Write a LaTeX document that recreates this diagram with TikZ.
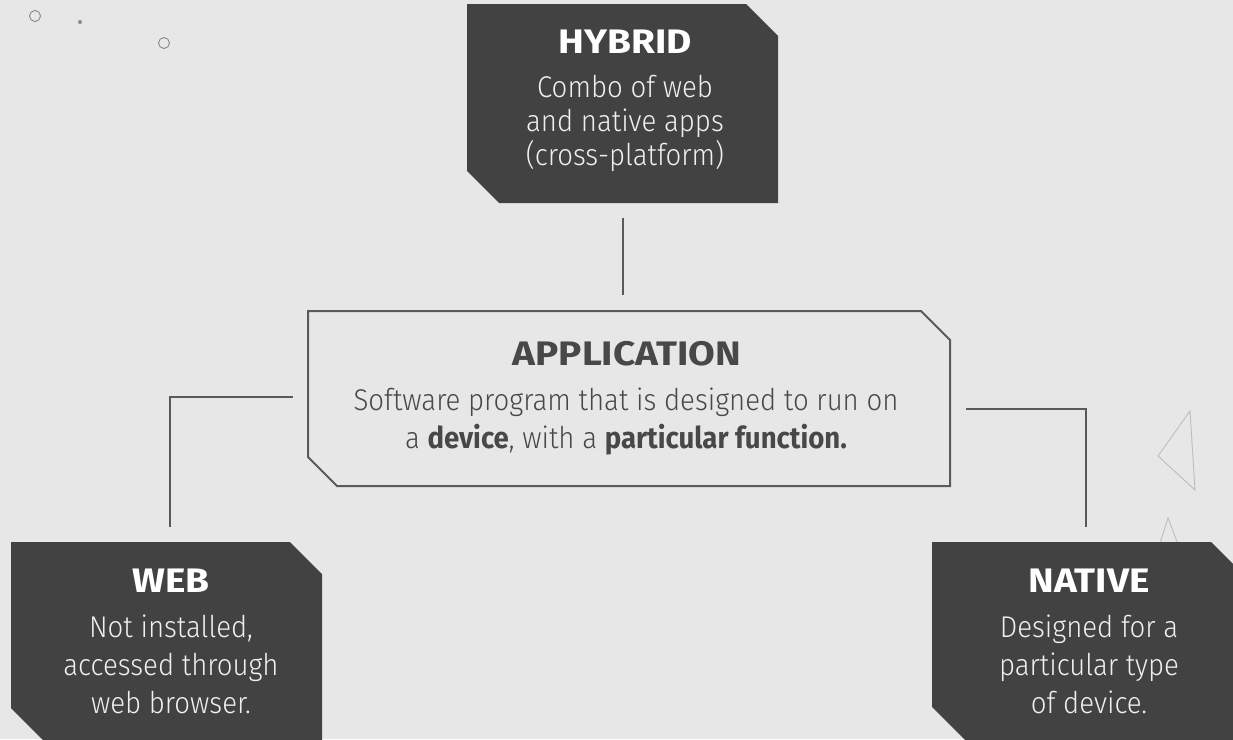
\documentclass[tikz,border=0pt]{standalone}
\usepackage{fontspec}
\setmainfont{Fira Sans Light}
\newfontfamily\bodyfont{Fira Sans Light}[FakeStretch=0.92]
\newfontfamily\headfont{Fira Sans Bold}[FakeStretch=1.14]
\newfontfamily\inlinebold{Fira Sans Bold}[FakeStretch=0.92]
\usetikzlibrary{calc}
\definecolor{bggray}{HTML}{E7E7E7}
\definecolor{boxdark}{HTML}{424242}
\definecolor{linegray}{HTML}{5A5A5A}
\definecolor{apptext}{HTML}{484848}
\definecolor{decogray}{HTML}{8A8A8A}
\definecolor{trigray}{HTML}{BDBDBD}
% chamfered outline from a named rectangle node: #1 options, #2 node, #3 cut
\newcommand\chamfbox[3]{%
  \path[#1] (#2.north west) -- ($(#2.north east)+(-#3,0)$) -- ($(#2.north east)+(0,#3)$)
    -- (#2.south east) -- ($(#2.south west)+(#3,0)$) -- ($(#2.south west)+(0,-#3)$) -- cycle;}
\begin{document}
\begin{tikzpicture}[x=1pt,y=-1pt,
  conn/.style={draw=linegray, line width=2pt},
  boxframe/.style={shape=rectangle, draw=none, fill=none, inner sep=0pt, outer sep=0pt},
  darkfill/.style={fill=boxdark},
  appfill/.style={fill=bggray, draw=linegray, line width=2pt},
  titlew/.style={anchor=base, inner sep=0pt, text=white, font=\headfont\fontsize{34}{38}\selectfont},
  bodyw/.style={anchor=base, inner sep=0pt, text=white!94!black, font=\bodyfont\fontsize{30}{38}\selectfont},
  titled/.style={anchor=base, inner sep=0pt, text=apptext, font=\headfont\fontsize{34}{38}\selectfont},
  bodyd/.style={anchor=base, inner sep=0pt, text=apptext, font=\bodyfont\fontsize{30}{38}\selectfont},
  deco/.style={draw=decogray, line width=0.9pt},
  tri/.style={draw=trigray, line width=0.9pt}
]
\useasboundingbox (0,0) rectangle (1233,739);
\fill[bggray] (0,0) rectangle (1233,739);

% decorations
\draw[deco] (35,16) circle[radius=5.5pt];
\fill[decogray] (80,22) circle[radius=2pt];
\draw[deco] (164,43) circle[radius=5.5pt];
\draw[tri] (1190,411) -- (1158,456) -- (1195,490) -- cycle;
\draw[tri] (1168,518) -- (1142,600) -- (1199,600) -- cycle;

% boxes
\node[boxframe, minimum width=311pt, minimum height=199pt] (hybrid) at (622.5,103.5) {};
\node[boxframe, minimum width=642pt, minimum height=175pt] (app) at (629,398.5) {};
\node[boxframe, minimum width=311pt, minimum height=198pt] (web) at (166.5,641) {};
\node[boxframe, minimum width=312pt, minimum height=198pt] (native) at (1088,641) {};
\chamfbox{darkfill}{hybrid}{32}
\chamfbox{appfill}{app}{29}
\chamfbox{darkfill}{web}{32}
\chamfbox{darkfill}{native}{33}

% connectors
\draw[conn] ($(hybrid.south)+(0.5,15)$) -- ($(hybrid.south |- app.north)+(0.5,-16)$);
\draw[conn] ($(app.west)+(-15,-1.5)$) -| ($(web.north)+(3.5,-15)$);
\draw[conn] ($(app.east)+(16,10.5)$) -| ($(native.north)+(-2,-15)$);

% texts
\node[titlew] (hybridT) at (625,53) {HYBRID};
\node[bodyw] (hybridA) at (625,97) {Combo of web};
\node[bodyw] (hybridB) at (625,131) {and native apps};
\node[bodyw] (hybridC) at (625,165) {(cross-platform)};

\node[titled] (appT) at (627,365) {APPLICATION};
\node[bodyd] (appA) at (626,410) {Software program that is designed to run on};
\node[bodyd] (appB) at (626,448) {a {\inlinebold device}, with a {\inlinebold particular function.}};

\node[titlew] (webT) at (171,592) {WEB};
\node[bodyw] (webA) at (171,637) {Not installed,};
\node[bodyw] (webB) at (171,675) {accessed through};
\node[bodyw] (webC) at (171,713) {web browser.};

\node[titlew] (nativeT) at (1089,592) {NATIVE};
\node[bodyw] (nativeA) at (1089,637) {Designed for a};
\node[bodyw] (nativeB) at (1089,675) {particular type};
\node[bodyw] (nativeC) at (1089,713) {of device.};
\end{tikzpicture}
\end{document}
